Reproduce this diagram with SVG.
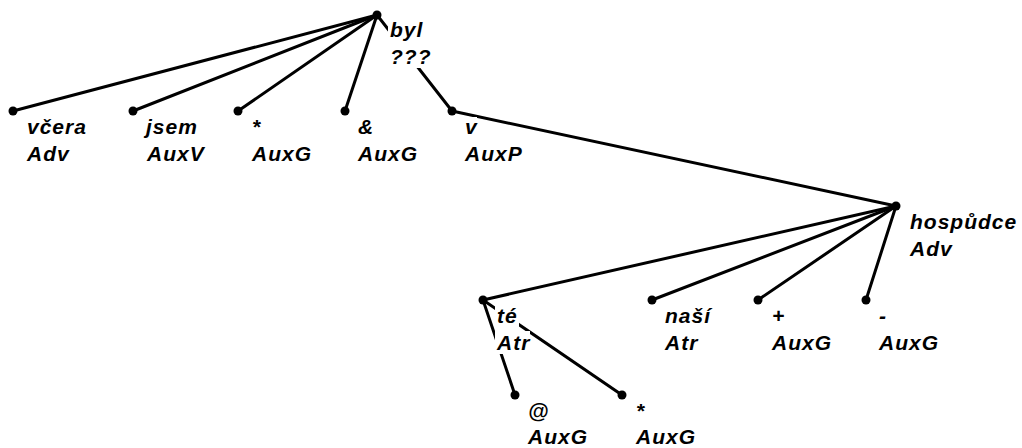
<svg xmlns="http://www.w3.org/2000/svg" width="1022" height="448" viewBox="0 0 1022 448">
<style>
.e{stroke:#000;stroke-width:3;fill:none;stroke-linecap:round}
.d{fill:#000}
.bg{fill:#fff}
text{font-family:"Liberation Sans",Arial,sans-serif;font-size:21px;font-weight:bold;font-style:italic;letter-spacing:1px;fill:#000}
</style>
<rect width="1022" height="448" fill="#fff"/>
<g id="connectors">
<line class="e" x1="377" y1="15" x2="13" y2="111"/>
<line class="e" x1="377" y1="15" x2="133" y2="111"/>
<line class="e" x1="377" y1="15" x2="238" y2="111"/>
<line class="e" x1="377" y1="15" x2="345" y2="111"/>
<line class="e" x1="377" y1="15" x2="452" y2="111"/>
<line class="e" x1="452" y1="111" x2="896" y2="206"/>
<line class="e" x1="896" y1="206" x2="483" y2="300"/>
<line class="e" x1="896" y1="206" x2="652" y2="300"/>
<line class="e" x1="896" y1="206" x2="758" y2="300"/>
<line class="e" x1="896" y1="206" x2="866" y2="300"/>
<line class="e" x1="483" y1="300" x2="515" y2="395"/>
<line class="e" x1="483" y1="300" x2="622" y2="395"/>
</g>
<g id="n-byl"><circle class="d" cx="377" cy="15" r="4.5"/><rect class="bg" x="388" y="20" width="36" height="22"/><rect class="bg" x="388" y="42" width="45" height="26"/><text x="390" y="37">byl</text><text x="390" y="64">???</text></g>
<g id="n-vcera"><circle class="d" cx="13" cy="111" r="4.5"/><rect class="bg" x="25" y="117" width="62" height="21"/><rect class="bg" x="25" y="144" width="45" height="21"/><text x="27" y="134">včera</text><text x="27" y="161">Adv</text></g>
<g id="n-jsem"><circle class="d" cx="133" cy="111" r="4.5"/><rect class="bg" x="143" y="117" width="55" height="21"/><rect class="bg" x="145" y="144" width="60" height="21"/><text x="146" y="134">jsem</text><text x="147" y="161">AuxV</text></g>
<g id="n-star1"><circle class="d" cx="238" cy="111" r="4.5"/><rect class="bg" x="250" y="117" width="12" height="21"/><rect class="bg" x="250" y="144" width="62" height="21"/><text x="252" y="134">*</text><text x="252" y="161">AuxG</text></g>
<g id="n-amp"><circle class="d" cx="345" cy="111" r="4.5"/><rect class="bg" x="356" y="117" width="19" height="21"/><rect class="bg" x="356" y="144" width="62" height="21"/><text x="358" y="134">&amp;</text><text x="358" y="161">AuxG</text></g>
<g id="n-v"><circle class="d" cx="452" cy="111" r="4.5"/><rect class="bg" x="463" y="117" width="14" height="21"/><rect class="bg" x="463" y="144" width="60" height="21"/><text x="465" y="134">v</text><text x="465" y="161">AuxP</text></g>
<g id="n-hospudce"><circle class="d" cx="896" cy="206" r="4.5"/><rect class="bg" x="908" y="212" width="112" height="21"/><rect class="bg" x="908" y="239" width="45" height="21"/><text x="910" y="229">hospůdce</text><text x="910" y="256">Adv</text></g>
<g id="n-te"><circle class="d" cx="483" cy="300" r="4.5"/><rect class="bg" x="495" y="306" width="24" height="21"/><rect class="bg" x="495" y="331" width="35" height="23"/><text x="497" y="323">té</text><text x="497" y="350">Atr</text></g>
<g id="n-nasi"><circle class="d" cx="652" cy="300" r="4.5"/><rect class="bg" x="663" y="306" width="48" height="21"/><rect class="bg" x="663" y="333" width="36" height="21"/><text x="665" y="323">naší</text><text x="665" y="350">Atr</text></g>
<g id="n-plus"><circle class="d" cx="758" cy="300" r="4.5"/><rect class="bg" x="770" y="306" width="15" height="21"/><rect class="bg" x="770" y="333" width="62" height="21"/><text x="772" y="323">+</text><text x="772" y="350">AuxG</text></g>
<g id="n-minus"><circle class="d" cx="866" cy="300" r="4.5"/><rect class="bg" x="877" y="306" width="10" height="21"/><rect class="bg" x="877" y="333" width="62" height="21"/><text x="879" y="323">-</text><text x="879" y="350">AuxG</text></g>
<g id="n-at"><circle class="d" cx="515" cy="395" r="4.5"/><rect class="bg" x="526" y="401" width="25" height="21"/><rect class="bg" x="526" y="427" width="62" height="21"/><text x="528" y="418">@</text><text x="528" y="444">AuxG</text></g>
<g id="n-star2"><circle class="d" cx="622" cy="395" r="4.5"/><rect class="bg" x="634" y="401" width="12" height="21"/><rect class="bg" x="634" y="427" width="62" height="21"/><text x="636" y="418">*</text><text x="636" y="444">AuxG</text></g>
</svg>
